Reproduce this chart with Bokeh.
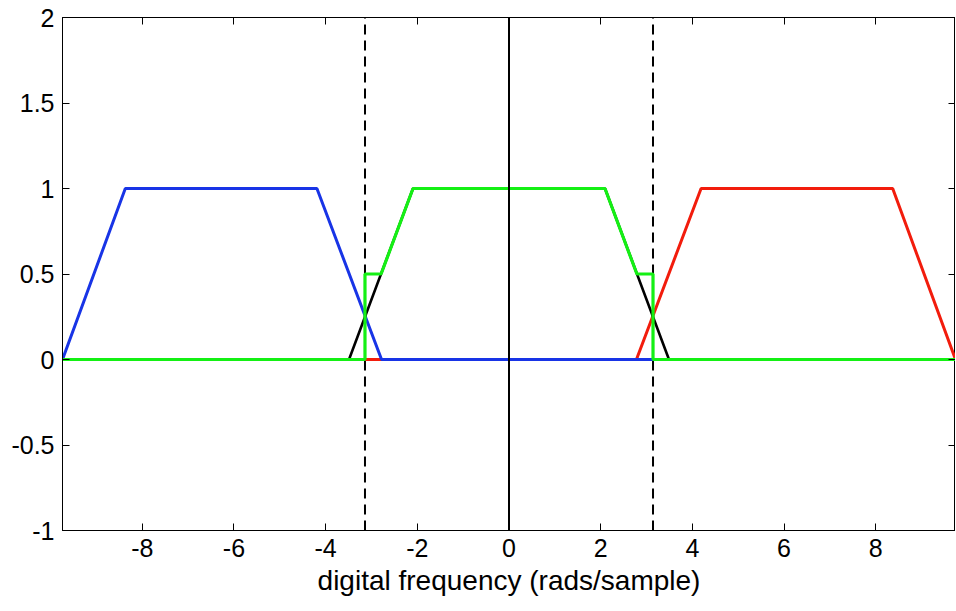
import math
from bokeh.plotting import figure
from bokeh.models import LinearAxis, FixedTicker, Range1d
from bokeh.embed import file_html
from bokeh.resources import INLINE

PI = math.pi

# ---- data ----
x_min, x_max = -9.74, 9.74
y_min, y_max = -1.0, 2.0

blue_x = [-9.74, -8.37, -4.19, -2.78, 9.74]
blue_y = [0.0, 1.0, 1.0, 0.0, 0.0]

red_x = [-9.74, 2.78, 4.19, 8.37, 9.74]
red_y = [0.0, 0.0, 1.0, 1.0, 0.0]

black_x = [-9.74, -3.49, -2.094, 2.094, 3.49, 9.74]
black_y = [0.0, 0.0, 1.0, 1.0, 0.0, 0.0]

green_x = [-9.74, -PI, -PI, -2.79, -2.094, 2.094, 2.79, PI, PI, 9.74]
green_y = [0.0, 0.0, 0.5, 0.5, 1.0, 1.0, 0.5, 0.5, 0.0, 0.0]

dash_x = [-PI, PI]
zero_x = [0.0]

x_ticks = [-8, -6, -4, -2, 0, 2, 4, 6, 8]
x_tick_labels = ["-8", "-6", "-4", "-2", "0", "2", "4", "6", "8"]
y_ticks = [-1, -0.5, 0, 0.5, 1, 1.5, 2]
y_tick_labels = ["-1", "-0.5", "0", "0.5", "1", "1.5", "2"]

x_label = "digital frequency (rads/sample)"

FONT = "Liberation Sans"

p = figure(width=955, height=598, output_backend="svg", toolbar_location=None,
           x_range=Range1d(x_min, x_max), y_range=Range1d(y_min, y_max),
           min_border_left=62, min_border_top=17, min_border_right=0, min_border_bottom=10)
p.background_fill_color = "white"
p.border_fill_color = "white"
p.outline_line_color = "black"
p.outline_line_width = 1
p.xgrid.visible = False
p.ygrid.visible = False

def style_axis(ax, ticks, labels=None, show_labels=True):
    ax.ticker = FixedTicker(ticks=ticks)
    ax.major_tick_in = 7
    ax.major_tick_out = 0
    ax.minor_tick_line_color = None
    ax.axis_line_color = "black"
    ax.major_tick_line_color = "black"
    if show_labels:
        ax.major_label_overrides = {t: l for t, l in zip(ticks, labels)}
        ax.major_label_text_font = FONT
        ax.major_label_text_font_size = "25px"
        ax.major_label_text_color = "black"
    else:
        ax.major_label_overrides = {t: "" for t in ticks}
        ax.major_label_text_color = None
        ax.major_label_standoff = 0

style_axis(p.xaxis[0], x_ticks, x_tick_labels)
style_axis(p.yaxis[0], y_ticks, y_tick_labels)
p.xaxis[0].major_label_standoff = 8
p.yaxis[0].major_label_standoff = 8
p.xaxis[0].axis_label = x_label
p.xaxis[0].axis_label_text_font = FONT
p.xaxis[0].axis_label_text_font_size = "28px"
p.xaxis[0].axis_label_text_font_style = "normal"
p.xaxis[0].axis_label_text_color = "black"
p.xaxis[0].axis_label_standoff = 5

top_ax = LinearAxis()
style_axis(top_ax, x_ticks, show_labels=False)
p.add_layout(top_ax, "above")
right_ax = LinearAxis()
style_axis(right_ax, y_ticks, show_labels=False)
p.add_layout(right_ax, "right")

# dashed verticals at +-pi
p.segment(x0=dash_x, y0=[y_min] * len(dash_x), x1=dash_x, y1=[y_max] * len(dash_x),
          line_color="black", line_width=2, line_dash="10 6")

p.line(red_x, red_y, line_color="#f21c0c", line_width=3)
p.line(blue_x, blue_y, line_color="#1834e6", line_width=3)
p.line(black_x, black_y, line_color="black", line_width=2.6)
p.line(green_x, green_y, line_color="#14f014", line_width=3.2)

# solid vertical at 0
p.segment(x0=zero_x, y0=[y_min], x1=zero_x, y1=[y_max], line_color="black", line_width=2)

open("out.html", "w").write(file_html(p, INLINE))
